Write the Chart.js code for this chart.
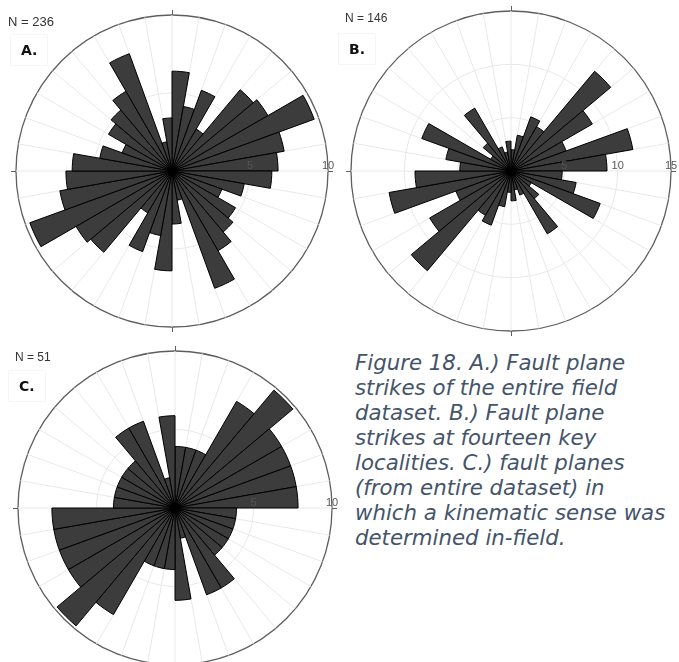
<!DOCTYPE html>
<html>
<head>
<meta charset="utf-8">
<script src="https://cdn.jsdelivr.net/npm/chart.js@4.4.0/dist/chart.umd.min.js"></script>
<style>
  html, body { margin: 0; padding: 0; background: #fff; }
  body { width: 679px; height: 662px; position: relative; overflow: hidden; }
  canvas { position: absolute; }
  .count { position: absolute; font-family: "Liberation Sans", Arial, sans-serif; color: #333; line-height: 1; white-space: nowrap; }
  .tag { position: absolute; font-family: "DejaVu Sans", Verdana, sans-serif; font-weight: bold; font-size: 14px; line-height: 1; color: #111;
         padding: 8px 10px; margin: -8px 0 0 -12px; border: 1px solid #f6f6f6; }
  .caption { position: absolute; left: 355px; top: 350px; font-family: "DejaVu Sans", Verdana, sans-serif; font-style: italic;
             font-size: 21.3px; line-height: 25px; color: #44546a; white-space: pre; }
</style>
</head>
<body>
<canvas id="roseA" width="328" height="328" style="left:8px;top:7px"></canvas>
<canvas id="roseB" width="336" height="336" style="left:343px;top:3px"></canvas>
<canvas id="roseC" width="330" height="330" style="left:10px;top:343px"></canvas>

<div class="count" style="left:8px;top:15px;font-size:13px">N = 236</div>
<div class="count" style="left:345px;top:12px;font-size:12px">N = 146</div>
<div class="count" style="left:15px;top:351px;font-size:12px">N = 51</div>

<div class="tag" style="left:22px;top:42px">A.</div>
<div class="tag" style="left:350px;top:41px">B.</div>
<div class="tag" style="left:20px;top:378px">C.</div>

<div class="caption">Figure 18. A.) Fault plane
strikes of the entire field
dataset. B.) Fault plane
strikes at fourteen key
localities. C.) fault planes
(from entire dataset) in
which a kinematic sense was
determined in-field.</div>

<script>
// strike bins, 10 degrees each, clockwise from north
const strikeBins = [
    '0-10', '10-20', '20-30', '30-40', '40-50', '50-60', '60-70', '70-80', '80-90',
    '90-100', '100-110', '110-120', '120-130', '130-140', '140-150', '150-160', '160-170', '170-180',
    '180-190', '190-200', '200-210', '210-220', '220-230', '230-240', '240-250', '250-260', '260-270',
    '270-280', '280-290', '290-300', '300-310', '310-320', '320-330', '330-340', '340-350', '350-360'
];

// A. entire field dataset (N = 236), % per bin
const strikesA = [
    6.4, 4.2, 5.5, 3.1, 6.8, 7.1, 9.7, 7.3, 6.8,
    6.4, 4.7, 3.4, 4.7, 5.1, 5.9, 8.0, 1.9, 3.4,
    6.4, 4.2, 5.5, 3.1, 6.8, 7.1, 9.7, 7.3, 6.8,
    6.4, 4.7, 3.4, 4.7, 5.1, 5.9, 8.0, 1.9, 3.4
];

// B. fourteen key localities (N = 146)
const strikesB = [
    2.0, 3.4, 5.4, 4.8, 12.2, 8.8, 5.5, 11.6, 9.0,
    4.8, 6.2, 8.9, 2.2, 3.4, 6.8, 2.4, 1.8, 2.8,
    2.0, 3.4, 5.4, 4.8, 12.2, 8.8, 5.5, 11.6, 9.0,
    4.8, 6.2, 8.9, 2.2, 3.4, 6.8, 2.4, 1.8, 2.8
];

// C. planes with kinematic sense (N = 51)
const strikesC = [
    3.92, 3.92, 3.92, 7.84, 9.8, 7.84, 7.84, 7.84, 7.84,
    3.92, 3.92, 3.92, 3.92, 3.92, 5.88, 5.88, 1.96, 5.88,
    3.92, 3.92, 3.92, 7.84, 9.8, 7.84, 7.84, 7.84, 7.84,
    3.92, 3.92, 3.92, 3.92, 3.92, 5.88, 5.88, 1.96, 5.88
];

const ticksA = [5, 10];
const ticksB = [5, 10, 15];
const ticksC = [5, 10];

const BAR_FILL = '#3c3c3c';
const BAR_EDGE = '#000000';
const GRID_LIGHT = '#e8e8e8';
const GRID_RIM = '#5e5e5e';

// cardinal tick marks, hub and radius labels along the east axis
const roseAxisPlugin = {
    id: 'roseAxis',
    afterDatasetsDraw(chart, args, opts) {
        const scale = chart.scales.r;
        const ctx = chart.ctx;
        const cx = scale.xCenter;
        const cy = scale.yCenter;
        const R = scale.drawingArea;

        ctx.save();
        ctx.strokeStyle = GRID_RIM;
        ctx.lineWidth = 1;
        ctx.beginPath();
        ctx.moveTo(cx + 0.5, cy - R); ctx.lineTo(cx + 0.5, cy - R - 5);
        ctx.moveTo(cx + 0.5, cy + R); ctx.lineTo(cx + 0.5, cy + R + 5);
        ctx.moveTo(cx - R, cy + 0.5); ctx.lineTo(cx - R - 5, cy + 0.5);
        ctx.moveTo(cx + R, cy + 0.5); ctx.lineTo(cx + R + 5, cy + 0.5);
        ctx.stroke();

        // bin edges merge into a solid hub
        ctx.fillStyle = '#000';
        ctx.beginPath();
        ctx.arc(cx, cy, 5.5, 0, Math.PI * 2);
        ctx.fill();

        ctx.font = '11px "Liberation Sans", Arial, sans-serif';
        ctx.fillStyle = '#555';
        ctx.textAlign = 'center';
        ctx.textBaseline = 'alphabetic';
        (opts.labels || []).forEach(v => {
            ctx.fillText(String(v), cx + scale.getDistanceFromCenterForValue(v), cy - 2);
        });
        ctx.restore();
    }
};

function createRose(canvasId, values, ticks) {
    const ctx = document.getElementById(canvasId).getContext('2d');
    const max = ticks[ticks.length - 1];

    return new Chart(ctx, {
        type: 'polarArea',
        data: {
            labels: strikeBins,
            datasets: [{
                data: values,
                backgroundColor: BAR_FILL,
                borderColor: BAR_EDGE,
                borderWidth: 1
            }]
        },
        options: {
            responsive: false,
            animation: false,
            layout: { padding: 8 },
            scales: {
                r: {
                    min: 0,
                    max: max,
                    startAngle: 0,
                    ticks: { display: false, stepSize: 5 },
                    pointLabels: { display: false },
                    angleLines: { display: true, color: GRID_LIGHT, lineWidth: 1 },
                    grid: {
                        circular: true,
                        color: (c) => c.tick && c.tick.value === max ? GRID_RIM : GRID_LIGHT,
                        lineWidth: (c) => c.tick && c.tick.value === max ? 1.3 : 1
                    }
                }
            },
            plugins: {
                legend: { display: false },
                tooltip: { enabled: false },
                roseAxis: { labels: ticks }
            }
        },
        plugins: [roseAxisPlugin]
    });
}

createRose('roseA', strikesA, ticksA);
createRose('roseB', strikesB, ticksB);
createRose('roseC', strikesC, ticksC);
</script>
</body>
</html>
